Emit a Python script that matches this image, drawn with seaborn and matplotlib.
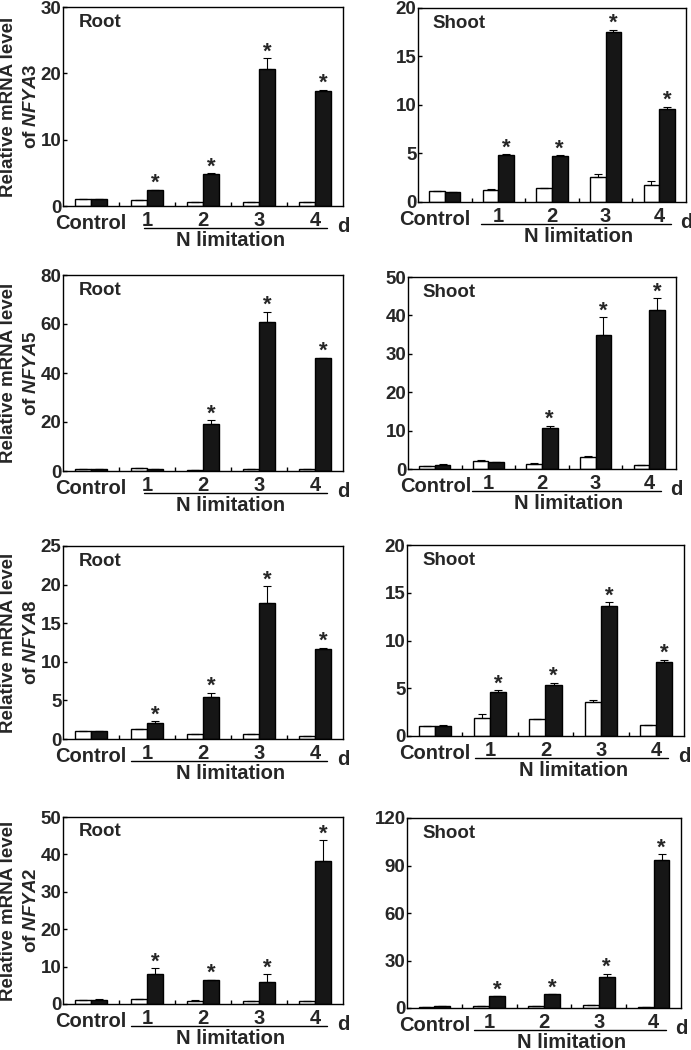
import numpy as np
import pandas as pd
import seaborn as sns
import matplotlib
matplotlib.use('Agg')
import matplotlib.pyplot as plt
from matplotlib.transforms import offset_copy

sns.set_style('white')
plt.rcParams['font.family'] = ['Liberation Sans', 'DejaVu Sans']
plt.rcParams['font.weight'] = 'bold'
plt.rcParams['mathtext.fontset'] = 'custom'
plt.rcParams['mathtext.it'] = 'Liberation Sans:italic:bold'
plt.rcParams['mathtext.rm'] = 'Liberation Sans:bold'

groups = ['Control', '1', '2', '3', '4']
conds = ['white', 'black']

# values (white = control-type bar, black = treated bar)
genes = ['NFYA3', 'NFYA3', 'NFYA5', 'NFYA5', 'NFYA8', 'NFYA8', 'NFYA2', 'NFYA2']
tissues = ['Root', 'Shoot'] * 4

white_vals = [
    [1.0, 0.9, 0.6, 0.6, 0.6],
    [1.1, 1.2, 1.4, 2.6, 1.8],
    [0.9, 1.2, 0.3, 0.8, 0.8],
    [0.9, 2.1, 1.2, 3.2, 1.0],
    [1.0, 1.3, 0.6, 0.6, 0.4],
    [1.0, 1.9, 1.8, 3.6, 1.1],
    [1.1, 1.4, 0.8, 0.8, 0.8],
    [0.6, 1.4, 1.5, 2.0, 0.6],
]
white_err = [
    [0.0, 0.0, 0.0, 0.0, 0.0],
    [0.05, 0.1, 0.0, 0.3, 0.4],
    [0.0, 0.0, 0.0, 0.0, 0.0],
    [0.0, 0.3, 0.3, 0.1, 0.0],
    [0.0, 0.0, 0.0, 0.1, 0.0],
    [0.0, 0.4, 0.0, 0.2, 0.0],
    [0.0, 0.0, 0.2, 0.0, 0.0],
    [0.0, 0.0, 0.0, 0.0, 0.0],
]
black_vals = [
    [1.0, 2.4, 4.8, 20.6, 17.4],
    [1.0, 4.8, 4.7, 17.5, 9.6],
    [0.9, 0.8, 19.0, 61.0, 46.0],
    [1.0, 1.9, 10.8, 35.0, 41.5],
    [1.0, 2.1, 5.4, 17.6, 11.6],
    [1.0, 4.6, 5.3, 13.6, 7.7],
    [1.2, 8.0, 6.5, 5.9, 38.2],
    [1.0, 7.3, 8.6, 19.5, 93.5],
]
black_err = [
    [0.0, 0.05, 0.1, 1.7, 0.15],
    [0.05, 0.1, 0.1, 0.25, 0.2],
    [0.0, 0.0, 1.7, 4.0, 0.3],
    [0.2, 0.0, 0.4, 4.5, 3.0],
    [0.0, 0.2, 0.6, 2.2, 0.2],
    [0.1, 0.2, 0.3, 0.4, 0.3],
    [0.2, 1.5, 0.0, 2.1, 5.6],
    [0.2, 0.0, 0.0, 2.0, 3.5],
]
# which black bars carry an asterisk
stars = [
    [0, 1, 1, 1, 1],
    [0, 1, 1, 1, 1],
    [0, 0, 1, 1, 1],
    [0, 0, 1, 1, 1],
    [0, 1, 1, 1, 1],
    [0, 1, 1, 1, 1],
    [0, 1, 1, 1, 1],
    [0, 1, 1, 1, 1],
]
ymax = [30, 20, 80, 50, 25, 20, 50, 120]
ystep = [10, 5, 20, 10, 5, 5, 10, 30]

# axes rectangles in pixels: left, top, right, bottom
W, H = 691, 1050
rects = [
    (63, 7, 343, 206), (418, 8, 686, 202),
    (63, 275, 343, 471), (408, 277, 676, 469),
    (63, 546, 343, 739), (407, 545, 684, 736),
    (63, 817, 343, 1004), (407, 818, 681, 1008),
]
line_start = [0.95, 0.68, 0.95, 0.7, 0.72, 0.72, 0.72, 0.72]
control_dx = [0, -7, 0, 1, 0, 0, 0, 0]

fig = plt.figure(figsize=(W / 100, H / 100), dpi=100)

for i in range(8):
    l, t, r, b = rects[i]
    ax = fig.add_axes([l / W, 1 - b / H, (r - l) / W, (b - t) / H])
    df = pd.DataFrame({
        'group': groups * 2,
        'cond': ['white'] * 5 + ['black'] * 5,
        'value': white_vals[i] + black_vals[i],
    })
    sns.barplot(data=df, x='group', y='value', hue='cond', order=groups,
                hue_order=conds, palette=['white', '#161616'],
                edgecolor='black', linewidth=1.0, width=0.58, gap=0,
                legend=False, ax=ax, errorbar=None)

    # bar patches: first 5 white, next 5 black
    patches = [p for p in ax.patches if p.get_width() > 0]
    wp = patches[:5]
    bp = patches[5:10]
    wx = [p.get_x() + p.get_width() / 2 for p in wp]
    bx = [p.get_x() + p.get_width() / 2 for p in bp]
    wv = np.array(white_vals[i])
    bv = np.array(black_vals[i])
    we = np.array(white_err[i])
    be = np.array(black_err[i])
    ax.errorbar(wx, wv, yerr=[np.zeros(5), we], fmt='none', ecolor='black',
                elinewidth=0.8, capsize=3, capthick=0.8, zorder=3)
    ax.errorbar(bx, bv, yerr=[np.zeros(5), be], fmt='none', ecolor='black',
                elinewidth=0.8, capsize=3, capthick=0.8, zorder=3)
    for j in range(5):
        if stars[i][j]:
            ax.annotate('*', xy=(bx[j], bv[j] + be[j]), xytext=(0, -3),
                        textcoords='offset points', ha='center', va='bottom',
                        fontsize=16, fontweight='bold')

    ax.set_xlim(-0.5, 4.5)
    ax.set_ylim(0, ymax[i])
    ax.set_yticks(np.arange(0, ymax[i] + 1, ystep[i]))
    ax.set_xticks(range(5))
    ax.set_xticklabels([])
    ax.set_xticks([0.5, 1.5, 2.5, 3.5], minor=True)
    ax.tick_params(axis='x', which='major', length=0)
    ax.tick_params(axis='x', which='minor', direction='in', length=3,
                   width=1, bottom=True, color='black')
    ax.tick_params(axis='y', direction='in', length=3, width=1, left=True,
                   labelsize=13.5, pad=1, color='black')
    for lab in ax.get_yticklabels():
        lab.set_fontweight('bold')
    ax.set_xlabel('')
    ax.set_ylabel('')
    for s in ax.spines.values():
        s.set_color('black')
        s.set_linewidth(1.0)

    ax.text(0.055, 0.92, tissues[i], transform=ax.transAxes, ha='left',
            va='center', fontsize=13.5, fontweight='bold')

    # bottom labels
    tr = ax.get_xaxis_transform()
    ax.annotate('Control', xy=(0, 0), xycoords=tr, xytext=(control_dx[i], -12.5),
                textcoords='offset points', ha='center', va='center',
                fontsize=14.5, fontweight='bold', annotation_clip=False)
    for j in range(1, 5):
        ax.annotate(groups[j], xy=(j, 0), xycoords=tr, xytext=(0, -10.5),
                    textcoords='offset points', ha='center', va='center',
                    fontsize=14.5, fontweight='bold', annotation_clip=False)
    line_tr = offset_copy(tr, fig=fig, x=0, y=-15.5, units='points')
    ax.plot([line_start[i], 4.22], [0, 0], color='black', lw=1.0,
            transform=line_tr, clip_on=False)
    ax.annotate('N limitation', xy=(2.5, 0), xycoords=tr, xytext=(0, -25),
                textcoords='offset points', ha='center', va='center',
                fontsize=14.5, fontweight='bold', annotation_clip=False)
    ax.annotate('d', xy=(1.0, 0), xycoords='axes fraction', xytext=(0, -14.5),
                textcoords='offset points', ha='center', va='center',
                fontsize=14.5, fontweight='bold', annotation_clip=False)

    if i % 2 == 0:
        ax.text(-0.193, 0.5, 'Relative mRNA level', transform=ax.transAxes,
                rotation=90, ha='center', va='center', fontsize=13.5,
                fontweight='bold')
        ax.text(-0.114, 0.5, 'of $\\mathit{' + genes[i] + '}$',
                transform=ax.transAxes, rotation=90, ha='center',
                va='center', fontsize=13.5, fontweight='bold')

fig.savefig('out.png', dpi=100)
